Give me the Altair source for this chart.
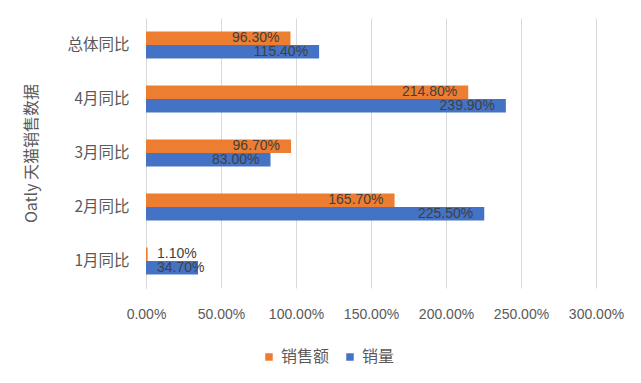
import altair as alt
import pandas as pd

categories = ["总体同比", "4月同比", "3月同比", "2月同比", "1月同比"]
series_names = ["销售额", "销量"]
sales = [96.3, 214.8, 96.7, 165.7, 1.1]
volume = [115.4, 239.9, 83.0, 225.5, 34.7]
x_ticks = [0, 50, 100, 150, 200, 250, 300]
colors = ["#ED7D31", "#4472C4"]

rows = []
for c, s, v in zip(categories, sales, volume):
    rows.append({"cat": c, "series": "销售额", "value": s})
    rows.append({"cat": c, "series": "销量", "value": v})
df = pd.DataFrame(rows)

base = alt.Chart(df).transform_calculate(
    label="format(datum.value, '.2f') + '%'", zero="0"
)

y_enc = alt.Y(
    "cat:N",
    sort=categories,
    scale=alt.Scale(paddingInner=0.5, paddingOuter=0.25),
    axis=alt.Axis(
        title="Oatly 天猫销售数据",
        titleFont="Noto Sans CJK SC",
        titleFontSize=16,
        titleFontWeight="normal",
        titleColor="#595959",
        titleAngle=-90,
        titleX=-115,
        titleY=135,
        titleAlign="center",
        titleBaseline="middle",
        labelFont="Noto Sans CJK SC",
        labelFontSize=15.5,
        labelColor="#595959",
        labelPadding=17,
        ticks=False,
        domain=True,
        domainColor="#D9D9D9",
        domainWidth=1,
        grid=False,
    ),
)
yoff = alt.YOffset("series:N", sort=series_names, scale=alt.Scale(paddingInner=0, paddingOuter=0))

bars = base.mark_bar().encode(
    x=alt.X(
        "value:Q",
        scale=alt.Scale(domain=[0, 300], nice=False),
        axis=alt.Axis(
            title=None,
            values=x_ticks,
            labelExpr="format(datum.value, '.2f') + '%'",
            labelFont="Liberation Sans",
            labelFontSize=14,
            labelColor="#595959",
            labelPadding=19,
            labelOverlap=False,
            labelFlush=False,
            ticks=False,
            domain=False,
            grid=True,
            gridColor="#D9D9D9",
            gridWidth=1,
        ),
    ),
    y=y_enc,
    yOffset=yoff,
    color=alt.Color(
        "series:N",
        sort=series_names,
        scale=alt.Scale(domain=series_names, range=colors),
        legend=alt.Legend(
            title=None,
            orient="none",
            legendX=115,
            legendY=331,
            direction="horizontal",
            symbolType="square",
            symbolSize=56,
            symbolStrokeWidth=0,
            labelFont="Noto Sans CJK SC",
            labelFontSize=16,
            labelColor="#595959",
            columnPadding=12,
            labelOffset=4,
        ),
    ),
)

text_style = dict(font="Liberation Sans", fontSize=14, color="#404040", baseline="middle")

big_labels = base.transform_filter("datum.value >= 50").mark_text(
    align="right", dx=-11, **text_style
).encode(
    x=alt.X("value:Q"),
    y=alt.Y("cat:N", sort=categories),
    yOffset=yoff,
    text="label:N",
)

small_labels = base.transform_filter("datum.value < 50").mark_text(
    align="left", dx=11, **text_style
).encode(
    x=alt.X("zero:Q"),
    y=alt.Y("cat:N", sort=categories),
    yOffset=yoff,
    text="label:N",
)

chart = (
    alt.layer(bars, big_labels, small_labels)
    .properties(
        width=450,
        height=270,
        autosize=alt.AutoSizeParams(type="none"),
        padding={"left": 138, "top": 10, "right": 30, "bottom": 80},
    )
    .configure_view(stroke=None)
)

chart.save("out.html", embed_options={"renderer": "svg", "actions": False})
